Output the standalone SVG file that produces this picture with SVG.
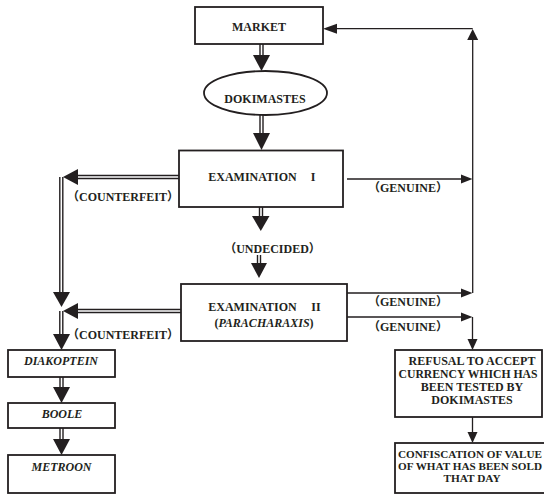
<svg xmlns="http://www.w3.org/2000/svg" width="544" height="494" viewBox="0 0 544 494">
<style>
.box{fill:#fff;stroke:#231f20;stroke-width:1.8}
.t{font-family:"Liberation Serif","Noto Sans CJK SC",serif;font-weight:bold;font-size:12px;fill:#231f20;text-anchor:middle}
.s{font-size:11.3px}
.i{font-style:italic}
.dO{stroke:#231f20;stroke-width:4.4;fill:none}
.dI{stroke:#fff;stroke-width:1.6;fill:none}
.ln{stroke:#231f20;stroke-width:1.3;fill:none}
.ah{fill:#231f20}
</style>
<rect width="544" height="494" fill="#fff"/>
<g id="connectors">
  <g class="dO">
    <path d="M261.5 44V56M261.5 115V134M261 207V217M259 255V264M180 177H77M61.3 177V293M181 311H77M61.3 311V335M61.5 377V388M61.5 428V440"/>
  </g>
  <g class="dI">
    <path d="M261.5 44V55M261.5 115V133M261 207V216M259 255V263M180 177H78M61.3 177V292M181 311H78M61.3 311V334M61.5 377V387M61.5 428V439"/>
  </g>
  <g class="ah">
    <polygon points="253,55 270,55 261.5,71"/>
    <polygon points="253,133 270,133 261.5,150"/>
    <polygon points="252,216 269.5,216 260.8,231"/>
    <polygon points="251,263 267,263 259,278"/>
    <polygon points="78,169 78,185 63,177"/>
    <polygon points="53,292 70,292 61.5,307"/>
    <polygon points="78,303 78,319 63,311"/>
    <polygon points="53,334 70,334 61.5,350"/>
    <polygon points="53,387 70,387 61.5,403"/>
    <polygon points="53,439 70,439 61.5,455"/>
  </g>
  <g class="ln">
    <path d="M472.7 293V39M472.7 28.7H337M347 179H462M347 293H462M347 317H462M472.5 317V340M472.5 417V433"/>
  </g>
  <g class="ah">
    <polygon points="467.2,40 478.2,40 472.7,29"/>
    <polygon points="337,23.7 337,33.7 323,28.7"/>
    <polygon points="461,174.5 461,183.5 472.5,179"/>
    <polygon points="461,288.5 461,297.5 472.5,293"/>
    <polygon points="461,312.5 461,321.5 472.5,317"/>
    <polygon points="467.5,339 477.5,339 472.5,350"/>
    <polygon points="467.5,432 477.5,432 472.5,443"/>
  </g>
  <text class="t" x="123" y="201">（COUNTERFEIT）</text>
  <text class="t" x="123" y="339">（COUNTERFEIT）</text>
  <text class="t" x="408" y="192">（GENUINE）</text>
  <text class="t" x="408" y="306">（GENUINE）</text>
  <text class="t" x="408" y="331">（GENUINE）</text>
  <text class="t" x="272.5" y="253">（UNDECIDED）</text>
</g>
<g id="market">
  <rect class="box" x="195" y="7" width="128" height="37"/>
  <text class="t" x="259" y="31">MARKET</text>
</g>
<g id="dokimastes">
  <ellipse class="box" cx="265.5" cy="93" rx="61.5" ry="22"/>
  <text class="t" x="265" y="102.5">DOKIMASTES</text>
</g>
<g id="exam1">
  <rect class="box" x="179" y="150.5" width="164" height="56.5"/>
  <text class="t" y="181"><tspan x="252.5">EXAMINATION</tspan><tspan x="313">I</tspan></text>
</g>
<g id="exam2">
  <rect class="box" x="181" y="284" width="166" height="57"/>
  <text class="t" y="311"><tspan x="252.5">EXAMINATION</tspan><tspan x="316">II</tspan></text>
  <text class="t" x="264" y="327">(<tspan class="i">PARACHARAXIS</tspan>)</text>
</g>
<g id="diakoptein">
  <rect class="box" x="8" y="350" width="107" height="27"/>
  <text class="t i" x="61" y="365">DIAKOPTEIN</text>
</g>
<g id="boole">
  <rect class="box" x="8" y="403" width="107" height="25"/>
  <text class="t i" x="62" y="418">BOOLE</text>
</g>
<g id="metroon">
  <rect class="box" x="8" y="455" width="107" height="38"/>
  <text class="t i" x="61.5" y="471">METROON</text>
</g>
<g id="refusal">
  <rect class="box" x="395" y="350" width="147" height="67"/>
  <text class="t" x="472" y="364.5">REFUSAL TO ACCEPT</text>
  <text class="t" x="468" y="377.5" textLength="139" lengthAdjust="spacingAndGlyphs">CURRENCY WHICH HAS</text>
  <text class="t" x="472" y="390.5">BEEN TESTED BY</text>
  <text class="t" x="472" y="403.5">DOKIMASTES</text>
</g>
<g id="confiscation">
  <rect class="box" x="395" y="443" width="165" height="50"/>
  <text class="t s" x="470" y="457.5" textLength="144" lengthAdjust="spacingAndGlyphs">CONFISCATION OF VALUE</text>
  <text class="t s" x="470" y="469.5" textLength="144" lengthAdjust="spacingAndGlyphs">OF WHAT HAS BEEN SOLD</text>
  <text class="t s" x="472" y="481.5">THAT DAY</text>
</g>
</svg>
